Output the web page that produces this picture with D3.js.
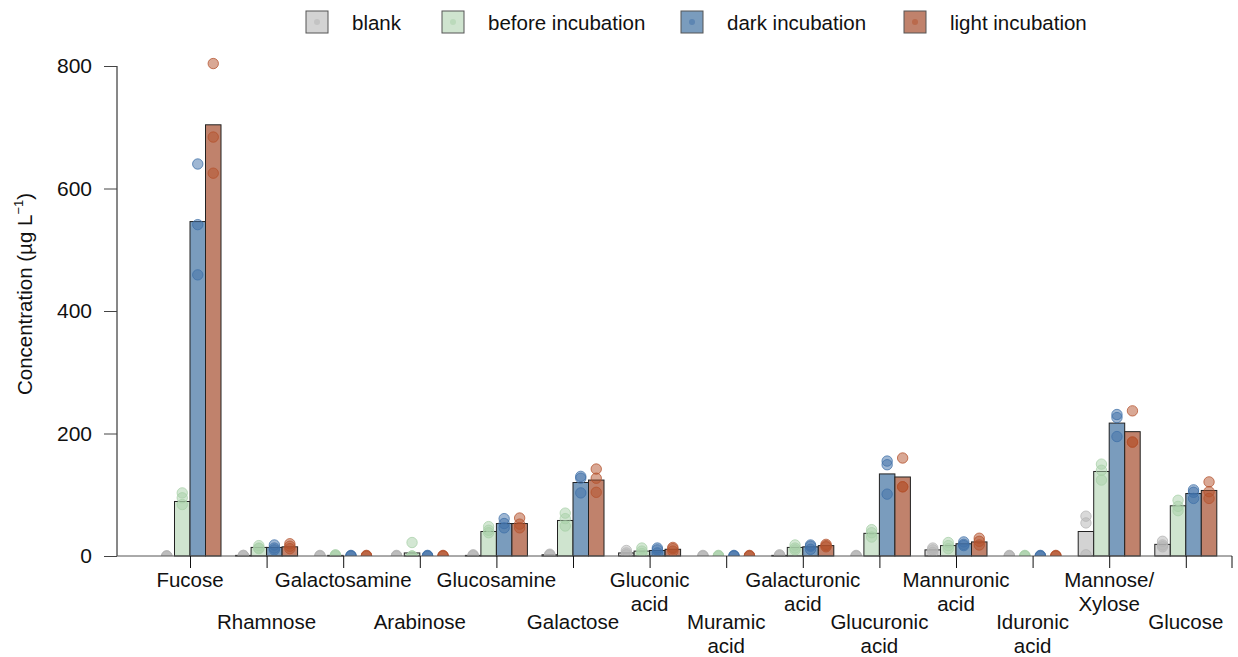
<!DOCTYPE html>
<html>
<head>
<meta charset="utf-8">
<script src="https://cdn.jsdelivr.net/npm/d3@7"></script>
<style>
  body { margin: 0; background: #fff; }
  svg text { font-family: "Liberation Sans", Arial, sans-serif; fill: #111; }
</style>
</head>
<body>
<div id="chart"></div>
<script>
// sugar categories, in plotting order
const categories = ["Fucose", "Rhamnose", "Galactosamine", "Arabinose", "Glucosamine", "Galactose",
  "Gluconic acid", "Muramic acid", "Galacturonic acid", "Glucuronic acid", "Mannuronic acid",
  "Iduronic acid", "Mannose/ Xylose", "Glucose"];
const series = ["blank", "before incubation", "dark incubation", "light incubation"];

// bar heights (mean, µg L-1)
const blankMean  = [0, 1, 0, 0, 1, 2, 5, 0, 1, 0, 10, 0, 40, 19];
const beforeMean = [89, 14, 1, 5, 40, 58, 8, 0, 14, 37, 17, 0, 138, 82];
const darkMean   = [546, 14, 0, 0, 53, 120, 9, 0, 15, 134, 20, 0, 217, 102];
const lightMean  = [704, 15, 0, 0, 53, 124, 11, 0, 17, 129, 23, 0, 203, 107];

// replicate values (three per bar)
const blankReps  = [[0,0,0],[1,1,0],[1,0,0],[1,0,0],[2,1,0],[3,2,1],[9,5,2],[1,0,0],[2,1,0],[1,0,0],[13,10,6],[1,0,0],[65,54,2],[24,18,15]];
const beforeReps = [[103,95,84],[17,13,12],[2,1,0],[22,0,0],[48,42,38],[70,61,49],[13,8,4],[1,0,0],[18,13,10],[43,38,31],[22,17,12],[1,0,0],[150,140,124],[91,81,74]];
const darkReps   = [[640,541,459],[18,13,10],[1,0,0],[1,0,0],[61,53,46],[130,127,103],[13,10,5],[1,0,0],[18,16,11],[155,149,101],[23,19,17],[1,0,0],[231,226,195],[108,104,94]];
const lightReps  = [[804,684,625],[20,16,12],[1,0,0],[1,0,0],[62,52,46],[142,127,104],[14,12,8],[1,0,0],[19,17,15],[160,113,113],[29,24,18],[1,0,0],[237,186,186],[121,105,94]];

const yTicks = [0, 200, 400, 600, 800];

const barFill   = ["#d3d3d3", "#cfe4cf", "#7a9cbd", "#c0826c"];
const dotColor  = ["#b4b4b4", "#a8d0a8", "#3f70a8", "#b4512c"];

const width = 1238, height = 657;
const svg = d3.select("#chart").append("svg")
  .attr("width", width).attr("height", height);

const y = d3.scaleLinear().domain([0, 800]).range([556, 66]);
const x = d3.scalePoint().domain(categories).range([190, 1185.8]);
const xs = d3.scaleBand().domain(series).range([-31, 31]);

const means = [blankMean, beforeMean, darkMean, lightMean];
const reps = [blankReps, beforeReps, darkReps, lightReps];

// clip so points sitting on zero only show their upper half
svg.append("clipPath").attr("id", "plotclip")
  .append("rect").attr("x", 0).attr("y", 0).attr("width", width).attr("height", 556);

// bars
const bars = [];
categories.forEach((c, i) => series.forEach((s, k) => bars.push({c, s, k, v: means[k][i]})));
svg.append("g").selectAll("rect").data(bars).join("rect")
  .attr("x", d => x(d.c) + xs(d.s))
  .attr("y", d => y(d.v))
  .attr("width", xs.bandwidth())
  .attr("height", d => y(0) - y(d.v))
  .attr("fill", d => barFill[d.k])
  .attr("stroke", "#222")
  .attr("stroke-width", 1);

// replicate points
const pts = [];
categories.forEach((c, i) => series.forEach((s, k) => reps[k][i].forEach(v => pts.push({c, s, k, v}))));
svg.append("g").attr("clip-path", "url(#plotclip)")
  .selectAll("circle").data(pts).join("circle")
  .attr("cx", d => x(d.c) + xs(d.s) + xs.bandwidth() / 2)
  .attr("cy", d => y(d.v))
  .attr("r", 5.2)
  .attr("fill", d => dotColor[d.k])
  .attr("fill-opacity", 0.5)
  .attr("stroke", d => dotColor[d.k])
  .attr("stroke-opacity", 0.75)
  .attr("stroke-width", 1);

// y axis
const yAxis = svg.append("g").attr("transform", "translate(117,0)")
  .call(d3.axisLeft(y).tickValues(yTicks).tickSize(13).tickPadding(12));
yAxis.select(".domain").attr("stroke", "#111").attr("d", "M0," + y(800) + "V" + y(0));
yAxis.selectAll(".tick line").attr("stroke", "#444");
yAxis.selectAll(".tick text").style("font-size", "21px").attr("fill", "#111");

// x axis line and ticks (plus the closing tick at the right end)
const xAxis = svg.append("g").attr("transform", "translate(0,556)")
  .call(d3.axisBottom(x).tickSize(12).tickFormat(""));
xAxis.select(".domain").attr("stroke", "#555").attr("d", "M117,0H1232");
xAxis.selectAll(".tick line").attr("stroke", "#111");
xAxis.append("line").attr("x1", 1232).attr("x2", 1232).attr("y1", 0).attr("y2", 12).attr("stroke", "#111");

// staggered category labels
const labels = svg.append("g");
categories.forEach((c, i) => {
  const lines = c.replace("Mannose/ Xylose", "Mannose/|Xylose").replace(" acid", "|acid").split("|");
  const base = i % 2 === 0 ? 587 : 629;
  const t = labels.append("text")
    .attr("x", x(c)).attr("y", base)
    .attr("text-anchor", "middle")
    .style("font-size", "20.5px");
  lines.forEach((l, j) => t.append("tspan").attr("x", x(c)).attr("dy", j === 0 ? 0 : 24).text(l));
});

// y label
svg.append("text")
  .attr("transform", "translate(32,294) rotate(-90)")
  .attr("text-anchor", "middle")
  .style("font-size", "20.5px")
  .call(t => {
    t.append("tspan").text("Concentration (µg  L");
    t.append("tspan").attr("dy", -9).style("font-size", "13px").text("−1");
    t.append("tspan").attr("dy", 9).text(")");
  });

// legend
const legendX = [306, 442, 681, 904];
const legend = svg.append("g");
series.forEach((s, k) => {
  const g = legend.append("g").attr("transform", "translate(" + legendX[k] + ",11)");
  g.append("rect").attr("width", 22).attr("height", 22)
    .attr("fill", barFill[k]).attr("stroke", "#555").attr("stroke-width", 1);
  g.append("circle").attr("cx", 11).attr("cy", 11).attr("r", 3)
    .attr("fill", dotColor[k]).attr("fill-opacity", 0.5);
  g.append("text").attr("x", 46).attr("y", 18.5).style("font-size", "20.5px").text(s);
});
</script>
</body>
</html>
